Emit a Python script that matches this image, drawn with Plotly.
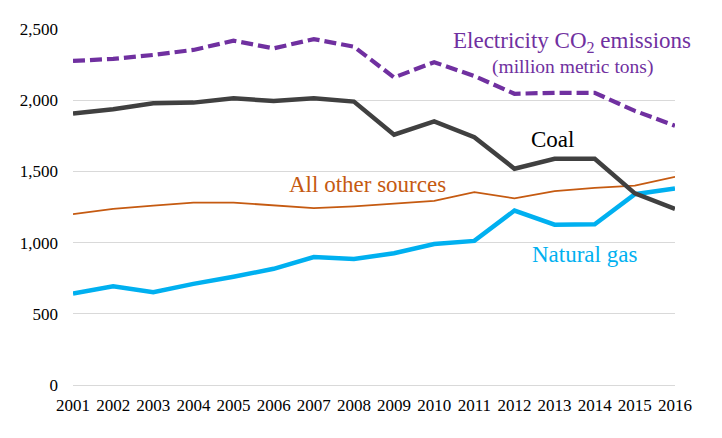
import plotly.graph_objects as go

years = list(range(2001, 2017))
co2_total = [2276, 2290, 2318, 2353, 2418, 2364, 2429, 2376, 2160, 2267, 2170, 2045, 2052, 2052, 1925, 1821]
coal = [1906, 1936, 1978, 1983, 2013, 1994, 2013, 1990, 1758, 1851, 1740, 1519, 1589, 1589, 1346, 1237]
other_sources = [1200, 1237, 1260, 1281, 1281, 1260, 1242, 1255, 1276, 1293, 1355, 1311, 1362, 1385, 1400, 1462]
natural_gas = [642, 693, 651, 710, 760, 816, 899, 885, 925, 990, 1012, 1225, 1126, 1128, 1340, 1380]

y_ticks = [0, 500, 1000, 1500, 2000, 2500]
y_tick_labels = ["0", "500", "1,000", "1,500", "2,000", "2,500"]

FONT = "Liberation Serif, Times New Roman, DejaVu Serif, serif"
PURPLE = "#7030A0"
COAL_C = "#404040"
ORANGE = "#C55A11"
BLUE = "#00B0F0"

fig = go.Figure()
fig.add_trace(go.Scatter(x=years, y=other_sources, mode="lines",
                         line=dict(color=ORANGE, width=1.8), name="All other sources"))
fig.add_trace(go.Scatter(x=years, y=natural_gas, mode="lines",
                         line=dict(color=BLUE, width=4.5), name="Natural gas"))
fig.add_trace(go.Scatter(x=years, y=coal, mode="lines",
                         line=dict(color=COAL_C, width=4.5), name="Coal"))
fig.add_trace(go.Scatter(x=years, y=co2_total, mode="lines",
                         line=dict(color=PURPLE, width=4.2, dash="12px,5px"),
                         name="Electricity CO2 emissions"))

annotations = [
    dict(x=2013.43, y=2412, text="Electricity CO<sub>2</sub> emissions",
         font=dict(size=23, color=PURPLE, family=FONT)),
    dict(x=2013.45, y=2232, text="(million metric tons)",
         font=dict(size=19.5, color=PURPLE, family=FONT)),
    dict(x=2012.95, y=1725, text="Coal",
         font=dict(size=23, color="#000000", family=FONT)),
    dict(x=2008.35, y=1410, text="All other sources",
         font=dict(size=23, color=ORANGE, family=FONT)),
    dict(x=2013.75, y=918, text="Natural gas",
         font=dict(size=23, color=BLUE, family=FONT)),
]
for a in annotations:
    a.update(xref="x", yref="y", showarrow=False, xanchor="center", yanchor="middle")

fig.update_layout(
    width=722, height=438,
    margin=dict(l=65, r=55, t=17, b=60.5),
    paper_bgcolor="white", plot_bgcolor="white",
    showlegend=False,
    font=dict(family=FONT, size=17, color="#000000"),
    annotations=annotations,
    xaxis=dict(range=[2001, 2016], tickmode="array", tickvals=years,
               ticktext=[str(y) for y in years], showgrid=False,
               showline=True, linecolor="#D9D9D9", linewidth=1.3,
               zeroline=False, ticks="", tickfont=dict(size=17, family=FONT),
               ticklabelstandoff=4),
    yaxis=dict(range=[0, 2500], tickmode="array", tickvals=y_ticks, ticktext=y_tick_labels,
               showgrid=True, gridcolor="#D9D9D9", gridwidth=1.3,
               zeroline=False, showline=False, ticks="",
               tickfont=dict(size=17, family=FONT), ticklabelstandoff=14),
)

fig.write_html("out.html")
